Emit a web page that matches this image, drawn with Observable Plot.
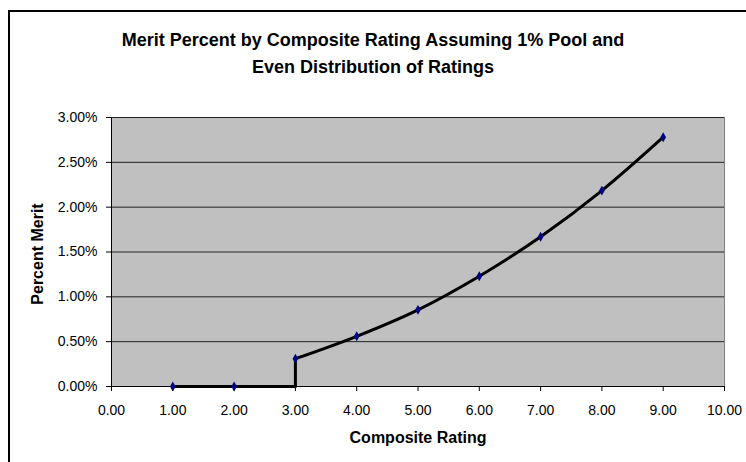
<!DOCTYPE html>
<html>
<head>
<meta charset="utf-8">
<script src="https://cdn.jsdelivr.net/npm/d3@7"></script>
<script src="https://cdn.jsdelivr.net/npm/@observablehq/plot@0.6"></script>
<style>
  html, body { margin: 0; padding: 0; background: #fff; overflow: hidden; }
  #wrap { position: relative; width: 746px; height: 462px; font-family: "Liberation Sans", Arial, sans-serif; }
  #box { position: absolute; left: 8px; top: 10px; width: 800px; height: 500px; border-top: 2px solid #000; border-left: 2px solid #000; box-sizing: border-box; }
  #title { position: relative; height: 100px; box-sizing: border-box; padding-top: 27px; text-align: center; font-weight: bold; font-size: 18px; line-height: 27px; color: #000; }
  #chart { position: relative; }
  #chart svg g.xtitle { font-size: 16px !important; font-weight: bold; }
  #chart svg g.ytitle { font-size: 16px !important; font-weight: bold; }
</style>
</head>
<body>
<div id="wrap">
  <div id="box"></div>
  <div id="title">Merit Percent by Composite Rating Assuming 1% Pool and<br>Even Distribution of Ratings</div>
  <div id="chart"></div>
</div>
<script>
const ratings = [1, 2, 3, 4, 5, 6, 7, 8, 9];
const merit = [0, 0, 0.31, 0.56, 0.855, 1.23, 1.67, 2.185, 2.78];
const xTicks = [0, 1, 2, 3, 4, 5, 6, 7, 8, 9, 10];
const yTicks = [0, 0.5, 1, 1.5, 2, 2.5, 3];
const xTitle = "Composite Rating";
const yTitle = "Percent Merit";

const pts = ratings.map((r, i) => ({x: r, y: merit[i]}));
const firstPos = pts.findIndex(d => d.y > 0);
const flat = pts.slice(0, firstPos).concat([{x: pts[firstPos].x, y: 0}, pts[firstPos]]);
const smooth = pts.slice(firstPos);

const fx = d => d.toFixed(2);
const fy = d => d.toFixed(2) + "%";

const plot = Plot.plot({
  width: 746,
  height: 362,
  marginLeft: 111,
  marginRight: 22,
  marginTop: 17,
  marginBottom: 76,
  style: {fontFamily: "Liberation Sans, Arial, sans-serif", color: "#000", background: "transparent"},
  x: {domain: [0, 10]},
  y: {domain: [0, 3]},
  marks: [
    Plot.frame({fill: "#c0c0c0", stroke: "#808080"}),
    Plot.gridY(yTicks, {stroke: "#222", strokeOpacity: 1, strokeWidth: 1}),
    Plot.ruleX([0], {stroke: "#000"}),
    Plot.ruleY([0], {stroke: "#000"}),
    Plot.axisY(yTicks, {tickSize: 5, tickFormat: () => "", label: null, stroke: "#000"}),
    Plot.axisX(xTicks, {tickSize: 5, tickFormat: () => "", label: null, stroke: "#000"}),
    Plot.text(yTicks, {x: 0, y: d => d, text: fy, textAnchor: "end", dx: -14, fill: "#000", className: "ylab"}),
    Plot.text(xTicks, {x: d => d, y: 0, text: fx, dy: 24, fill: "#000", className: "xlab"}),
    Plot.text([yTitle], {frameAnchor: "left", textAnchor: "middle", lineAnchor: "middle", dx: -74, dy: 2, rotate: -90, className: "ytitle"}),
    Plot.text([xTitle], {frameAnchor: "bottom", lineAnchor: "middle", dy: 51, className: "xtitle"}),
    Plot.line(flat, {x: "x", y: "y", stroke: "#000", strokeWidth: 3, curve: "linear"}),
    Plot.line(smooth, {x: "x", y: "y", stroke: "#000", strokeWidth: 3, curve: "catmull-rom"}),
    Plot.dot(pts, {x: "x", y: "y", symbol: "diamond", fill: "#000080", r: 3})
  ]
});
d3.select(plot).selectAll(".ylab, .xlab").style("font-size", "14px");
d3.select(plot).selectAll(".ylab text, .xlab text").style("font-size", "14px");
document.getElementById("chart").appendChild(plot);
</script>
</body>
</html>
